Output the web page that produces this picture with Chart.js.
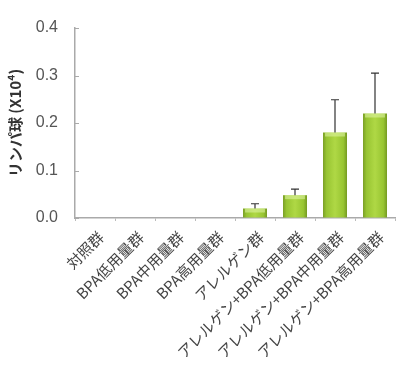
<!DOCTYPE html>
<html><head><meta charset="utf-8">
<script src="https://cdn.jsdelivr.net/npm/chart.js@4"></script>
<style>html,body{margin:0;padding:0;background:#fff}#wrap{width:400px;height:369px}</style>
</head><body><div id="wrap"><canvas id="c"></canvas></div>
<script>
const categories = ["対照群","BPA低用量群","BPA中用量群","BPA高用量群","アレルゲン群","アレルゲン+BPA低用量群","アレルゲン+BPA中用量群","アレルゲン+BPA高用量群"];
const values = [0, 0, 0, 0, 0.02, 0.048, 0.18, 0.22];
const errors = [0, 0, 0, 0, 0.01, 0.013, 0.069, 0.085];
const yTicks = [0, 0.1, 0.2, 0.3, 0.4];
const yTitle = "リンパ球 (X10⁴)";

const barShade = {
  id: 'barShade',
  afterDatasetsDraw(chart) {
    const ctx = chart.ctx;
    ctx.save();
    chart.getDatasetMeta(0).data.forEach(el => {
      const l = el.x - el.width / 2, r = el.x + el.width / 2;
      const t = Math.min(el.y, el.base), b = Math.max(el.y, el.base);
      if (b - t < 0.5) return;
      const g = ctx.createLinearGradient(l, 0, r, 0);
      g.addColorStop(0, '#7a9f26');
      g.addColorStop(0.15, '#98c532');
      g.addColorStop(0.5, '#afd845');
      g.addColorStop(0.85, '#98c532');
      g.addColorStop(1, '#759a22');
      ctx.fillStyle = g;
      ctx.fillRect(l, t, r - l, b - t);
      const h = Math.min(4, b - t);
      ctx.fillStyle = 'rgba(225,245,170,0.55)';
      ctx.fillRect(l + 2, t, r - l - 4, h);
    });
    ctx.restore();
  }
};
const errBars = {
  id: 'errBars',
  afterDatasetsDraw(chart) {
    const ctx = chart.ctx, y = chart.scales.y;
    const meta = chart.getDatasetMeta(0);
    ctx.save();
    ctx.strokeStyle = '#333';
    ctx.lineWidth = 1.2;
    meta.data.forEach((el, i) => {
      if (!errors[i]) return;
      const top = y.getPixelForValue(values[i] + errors[i]);
      const base = y.getPixelForValue(values[i]);
      ctx.beginPath();
      ctx.moveTo(el.x, base); ctx.lineTo(el.x, top);
      ctx.moveTo(el.x - 4, top); ctx.lineTo(el.x + 4, top);
      ctx.stroke();
    });
    ctx.restore();
  }
};
const innerTicks = {
  id: 'innerTicks',
  afterDraw(chart) {
    const ctx = chart.ctx, y = chart.scales.y, x = chart.scales.x;
    ctx.save();
    ctx.strokeStyle = '#aaa';
    ctx.lineWidth = 1;
    yTicks.forEach(v => {
      const py = Math.round(y.getPixelForValue(v)) + 0.5;
      ctx.beginPath(); ctx.moveTo(x.left, py); ctx.lineTo(x.left + 4, py); ctx.stroke();
    });
    ctx.restore();
  }
};

new Chart(document.getElementById('c'), {
  type: 'bar',
  data: { labels: categories, datasets: [{ data: values, borderWidth: 0, backgroundColor: 'rgba(0,0,0,0)' }] },
  plugins: [barShade, errBars, innerTicks],
  options: {
    responsive: true, maintainAspectRatio: false, animation: false,
    layout: { padding: { top: 28, right: 5, left: 0, bottom: 0 } },
    plugins: { legend: { display: false }, tooltip: { enabled: false } },
    datasets: { bar: { categoryPercentage: 1, barPercentage: 0.6 } },
    scales: {
      x: {
        grid: { drawOnChartArea: false, tickLength: 3, color: '#bbb', offset: true },
        border: { color: '#aaa', width: 1.5 },
        ticks: { color: '#444', font: { family: 'Noto Sans CJK JP', size: 15 }, minRotation: 45, maxRotation: 45, padding: 7, labelOffset: 6, autoSkip: false },
        afterFit(s) { s.height = 151; }
      },
      y: {
        min: 0, max: 0.4,
        afterBuildTicks(s) { s.ticks = yTicks.map(v => ({ value: v })); },
        grid: { drawOnChartArea: false, drawTicks: false, tickLength: 0 },
        border: { color: '#aaa', width: 1.5 },
        ticks: { color: '#555', font: { family: 'Liberation Sans', size: 16 }, padding: 17, callback: v => v.toFixed(1) },
        title: { display: true, text: yTitle, color: '#333', font: { family: 'Noto Sans CJK JP', size: 15, weight: 'bold' }, padding: { top: 6, bottom: 0 } },
        afterFit(s) { s.width = 75; }
      }
    }
  }
});
</script></body></html>
